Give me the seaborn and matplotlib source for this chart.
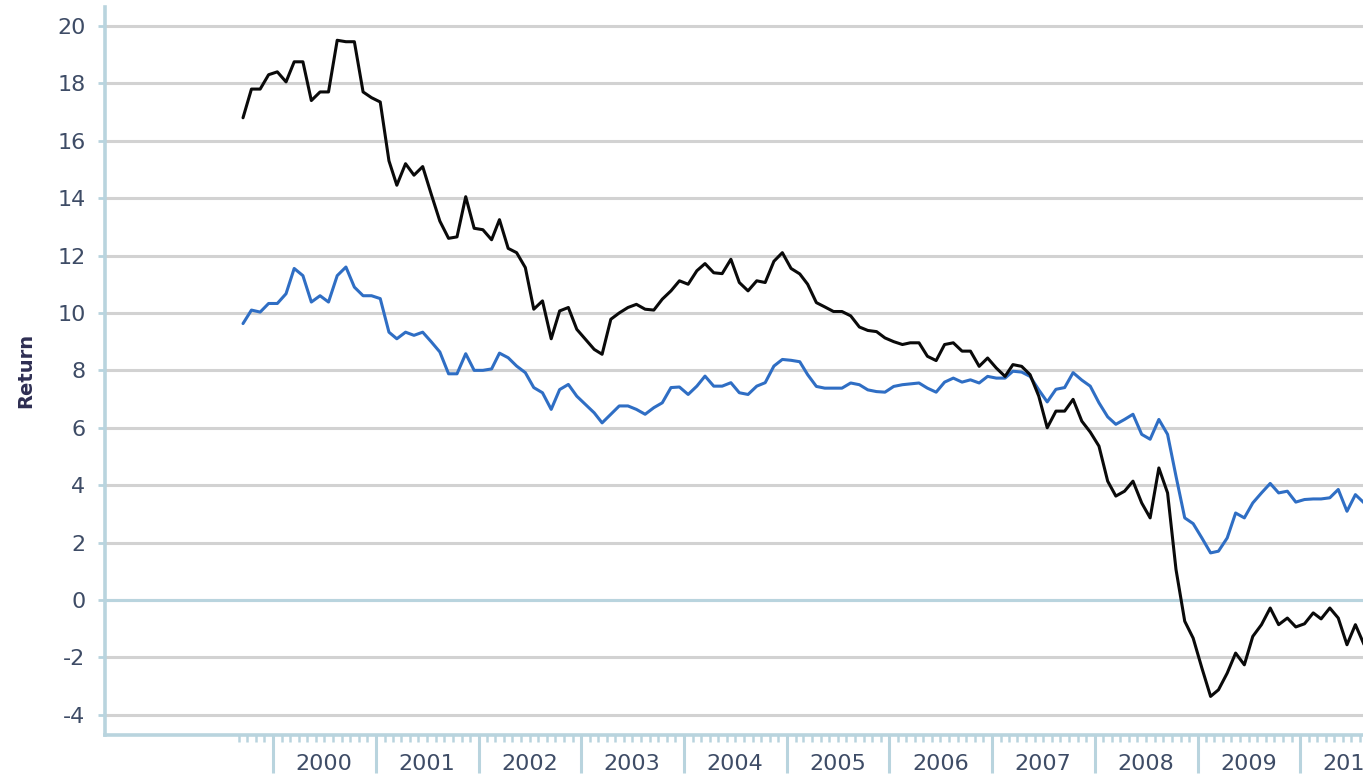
import matplotlib
matplotlib.use("Agg")
import matplotlib.pyplot as plt
import matplotlib.dates as mdates
import matplotlib.ticker as mticker
import numpy as np
import pandas as pd
import seaborn as sns

### Data (monthly, Sep 1999 - Aug 2010) ###

start_month = "1999-09-01"

black_returns = [
    16.8, 17.8, 17.8, 18.3,
    18.4, 18.05, 18.75, 18.75, 17.4, 17.7, 17.7, 19.5, 19.45, 19.45, 17.7, 17.5,
    17.35, 15.3, 14.45, 15.2, 14.8, 15.1, 14.15, 13.2, 12.6, 12.65, 14.05, 12.95,
    12.9, 12.55, 13.25, 12.25, 12.1, 11.58, 10.13, 10.42, 9.1, 10.07, 10.19, 9.43,
    9.08, 8.73, 8.56, 9.78, 10.0, 10.19, 10.3, 10.13, 10.1, 10.48, 10.77, 11.12,
    11.0, 11.47, 11.72, 11.4, 11.37, 11.87, 11.06, 10.77, 11.12, 11.06, 11.8, 12.1,
    11.55, 11.36, 11.0, 10.36, 10.21, 10.05, 10.05, 9.9, 9.51, 9.39, 9.35, 9.13,
    9.0, 8.9, 8.96, 8.96, 8.49, 8.34, 8.9, 8.96, 8.67, 8.67, 8.14, 8.43,
    8.08, 7.79, 8.2, 8.14, 7.85, 7.1, 6.0, 6.58, 6.58, 6.99, 6.23, 5.85,
    5.36, 4.14, 3.62, 3.79, 4.14, 3.38, 2.86, 4.6, 3.73, 1.06, -0.74, -1.33,
    -2.37, -3.36, -3.13, -2.55, -1.85, -2.26, -1.27, -0.86, -0.28, -0.86, -0.63, -0.94,
    -0.83, -0.45, -0.66, -0.28, -0.63, -1.56, -0.86, -1.56,
]

blue_returns = [
    9.63, 10.1, 10.03, 10.33,
    10.33, 10.67, 11.55, 11.3, 10.38, 10.6, 10.38, 11.3, 11.6, 10.9, 10.6, 10.6,
    10.5, 9.33, 9.1, 9.33, 9.22, 9.33, 9.0, 8.64, 7.88, 7.88, 8.58, 8.0,
    8.0, 8.05, 8.6, 8.44, 8.15, 7.92, 7.4, 7.22, 6.64, 7.33, 7.51, 7.1,
    6.81, 6.52, 6.17, 6.47, 6.76, 6.76, 6.64, 6.47, 6.7, 6.87, 7.4, 7.42,
    7.16, 7.45, 7.8, 7.45, 7.45, 7.57, 7.22, 7.16, 7.45, 7.57, 8.15, 8.38,
    8.35, 8.3, 7.85, 7.44, 7.38, 7.38, 7.38, 7.56, 7.5, 7.32, 7.26, 7.24,
    7.44, 7.5, 7.53, 7.56, 7.38, 7.24, 7.59, 7.73, 7.59, 7.67, 7.56, 7.79,
    7.73, 7.73, 7.97, 7.94, 7.79, 7.32, 6.9, 7.34, 7.4, 7.92, 7.66, 7.45,
    6.87, 6.38, 6.12, 6.29, 6.47, 5.77, 5.6, 6.29, 5.77, 4.31, 2.86, 2.66,
    2.16, 1.64, 1.7, 2.16, 3.03, 2.86, 3.38, 3.73, 4.06, 3.73, 3.79, 3.41,
    3.5, 3.52, 3.52, 3.56, 3.85, 3.09, 3.67, 3.38,
]

y_ticks = list(range(-4, 21, 2))
years = list(range(2000, 2011))
year_labels = [str(y) for y in years]

### Build long table ###

months = pd.date_range(start_month, periods=len(black_returns), freq="MS")
points = months + pd.Timedelta(days=15)          # Excel puts points mid-month

df = pd.DataFrame({
    "date": list(points) * 2,
    "value": blue_returns + black_returns,
    "series": ["blue"] * len(blue_returns) + ["black"] * len(black_returns),
})

### Style ###

axis_col = "#b9d4de"
grid_col = "#d2d2d2"
label_col = "#3e4c66"

sns.set_style("white")
plt.rcParams["font.family"] = ["DejaVu Sans"]
plt.rcParams["axes.unicode_minus"] = False       # reference uses plain hyphens

fig = plt.figure(figsize=(13.63, 7.76), dpi=100)
ax = fig.add_axes([0.077, 0.053, 0.923, 0.938])

ax.yaxis.grid(True, color=grid_col, linewidth=2.2)
ax.set_axisbelow(True)
ax.axhline(0, color=axis_col, linewidth=2.2, zorder=1)

sns.lineplot(
    data=df, x="date", y="value", hue="series",
    hue_order=["blue", "black"],
    palette={"blue": "#2f6ec4", "black": "#0a0a0a"},
    linewidth=2.2, legend=False, ax=ax, zorder=3
)

### Axes limits ###

ax.set_ylim(-4.70, 20.66)
ax.set_xlim(pd.Timestamp("1998-05-13"), pd.Timestamp("2010-08-12"))

### Y axis ###

ax.set_yticks(y_ticks)
ax.tick_params(axis="y", length=5, width=2.0, color=axis_col,
               labelsize=16, labelcolor=label_col, pad=9, left=True)
ax.set_ylabel("Return", fontsize=14, fontweight="bold", color="#2e2e52", labelpad=16)

### X axis: year boundaries (long), months (short), labels mid-year ###

year_starts = [mdates.date2num(pd.Timestamp(f"{y}-01-01")) for y in years]
month_ticks = [mdates.date2num(m) for m in months if m.month != 1]
mid_years = [mdates.date2num(pd.Timestamp(f"{y}-07-01")) for y in years]

ax.xaxis.set_major_locator(mticker.FixedLocator(year_starts))
ax.xaxis.set_minor_locator(mticker.FixedLocator(month_ticks))
ax.tick_params(axis="x", which="major", length=27, width=2.2, color=axis_col,
               labelbottom=False, bottom=True)
ax.tick_params(axis="x", which="minor", length=5, width=1.8, color=axis_col,
               labelbottom=False, bottom=True)
ax.set_xlabel("")

sec = ax.secondary_xaxis("bottom")
sec.set_xticks(mid_years, labels=year_labels)
sec.tick_params(length=0, pad=14, labelsize=16, labelcolor=label_col)
sec.spines["bottom"].set_visible(False)

for side in ["top", "right"]:
    ax.spines[side].set_visible(False)
for side in ["left", "bottom"]:
    ax.spines[side].set_color(axis_col)
    ax.spines[side].set_linewidth(2.6)

fig.savefig("out.png", dpi=100)
